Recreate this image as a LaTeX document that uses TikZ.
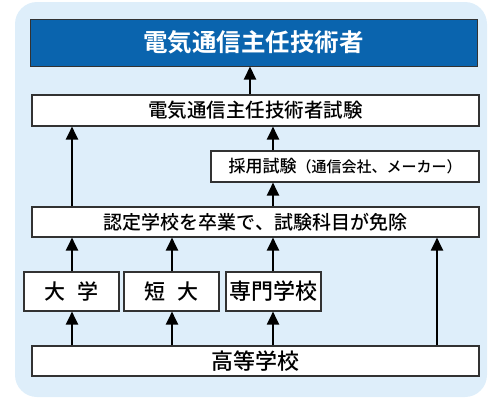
\documentclass[tikz,border=0pt]{standalone}
\usepackage{fontspec}
\newfontfamily\jp{Noto Sans CJK JP Medium}[BoldFont={Noto Sans CJK JP Bold}]
\usetikzlibrary{arrows.meta}
\definecolor{bgblue}{RGB}{222,238,250}
\definecolor{titleblue}{RGB}{10,100,174}
\definecolor{edge}{RGB}{50,50,50}
\tikzset{
  box/.style={draw=edge, line width=1.1pt, fill=white, inner sep=0pt, font=\jp, text=black},
  wide/.style={box, minimum width=447pt, minimum height=31pt},
  school/.style={box, minimum width=95pt, minimum height=39pt, font=\jp\fontsize{21}{21}\selectfont},
  arr/.style={line width=2pt, -{Triangle[width=12pt,length=13pt]}}
}
\begin{document}
\begin{tikzpicture}[x=1pt,y=-1pt]
\useasboundingbox (0,0) rectangle (500,400);
\fill[bgblue, rounded corners=22pt] (15,2) rectangle (487,397);
\node[draw=edge, line width=1pt, fill=titleblue, text=white, minimum width=447pt, minimum height=47pt, inner sep=0pt, font=\jp\bfseries\fontsize{24.5}{24.5}\selectfont] (title) at (253.5,42.5) {電気通信主任技術者};
\node[wide, font=\jp\fontsize{19.5}{19.5}\selectfont] (exam) at (255.5,110.5) {電気通信主任技術者試験};
\node[box, minimum width=268pt, minimum height=31pt] (saiyo) at (345,166.5) {\fontsize{17}{17}\selectfont 採用試験\fontsize{15}{15}\selectfont（通信会社、メーカー）};
\node[wide, minimum height=30pt, font=\jp\fontsize{19}{19}\selectfont] (cert) at (255.5,222) {認定学校を卒業で、試験科目が免除};
\node[school] (univ) at (71.5,291.5) {大\hspace{0.55em}学};
\node[school] (junior) at (171.5,291.5) {短\hspace{0.55em}大};
\node[school, font=\jp\fontsize{22}{22}\selectfont] (senmon) at (273.5,291.5) {専門学校};
\node[wide, minimum height=30pt, font=\jp\fontsize{22}{22}\selectfont] (hs) at (255.5,361) {高等学校};
\coordinate (ca) at (72,0);
\coordinate (cb) at (172,0);
\coordinate (cc) at (273,0);
\coordinate (cd) at (250,0);
\coordinate (ce) at (437,0);
\draw[arr] (exam.north -| cd) -- (title.south -| cd);
\draw[arr] (cert.north -| ca) -- (exam.south -| ca);
\draw[arr] (saiyo.north -| cc) -- (exam.south -| cc);
\draw[arr] (cert.north -| cc) -- (saiyo.south -| cc);
\draw[arr] (univ.north -| ca) -- (cert.south -| ca);
\draw[arr] (junior.north -| cb) -- (cert.south -| cb);
\draw[arr] (senmon.north -| cc) -- (cert.south -| cc);
\draw[arr] (hs.north -| ca) -- (univ.south -| ca);
\draw[arr] (hs.north -| cb) -- (junior.south -| cb);
\draw[arr] (hs.north -| cc) -- (senmon.south -| cc);
\draw[arr] (hs.north -| ce) -- (cert.south -| ce);
\end{tikzpicture}
\end{document}
